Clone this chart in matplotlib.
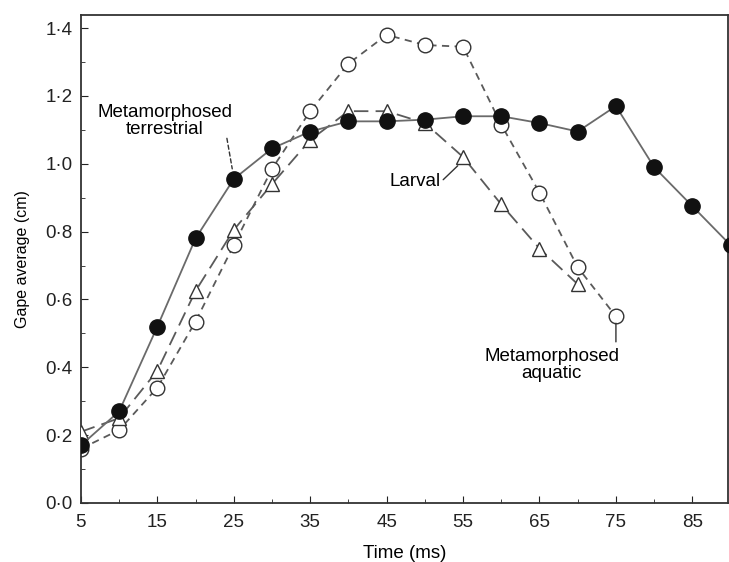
import matplotlib
matplotlib.use("Agg")
import matplotlib.pyplot as plt
from matplotlib.ticker import MultipleLocator, FuncFormatter

plt.rcParams['font.family'] = ['Liberation Sans', 'DejaVu Sans']

# values
time_terr = [5, 10, 15, 20, 25, 30, 35, 40, 45, 50, 55, 60, 65, 70, 75, 80, 85, 90]
gape_terr = [0.17, 0.27, 0.52, 0.78, 0.955, 1.045, 1.095, 1.125, 1.125, 1.13, 1.14, 1.14,
             1.12, 1.095, 1.17, 0.99, 0.875, 0.76]

time_aqua = [5, 10, 15, 20, 25, 30, 35, 40, 45, 50, 55, 60, 65, 70, 75]
gape_aqua = [0.16, 0.215, 0.34, 0.535, 0.76, 0.985, 1.155, 1.295, 1.38, 1.35, 1.345,
             1.115, 0.915, 0.695, 0.55]

time_larv = [5, 10, 15, 20, 25, 30, 35, 40, 45, 50, 55, 60, 65, 70]
gape_larv = [0.21, 0.25, 0.39, 0.625, 0.805, 0.94, 1.07, 1.155, 1.155, 1.12, 1.02,
             0.88, 0.75, 0.645]

xticks = [5, 15, 25, 35, 45, 55, 65, 75, 85]

fig = plt.figure(figsize=(7.29, 5.62), dpi=100)
ax = fig.add_axes([0.111, 0.105, 0.888, 0.868])

line_col = '#5a5a5a'
ax.plot(time_aqua, gape_aqua, color=line_col, lw=1.3, ls=(0, (4, 3)),
        marker='o', ms=10.5, mfc='white', mec='#333333', mew=1.0, zorder=2)
ax.plot(time_larv, gape_larv, color=line_col, lw=1.3, ls=(0, (8, 4)),
        marker='^', ms=10, mfc='white', mec='#333333', mew=1.0, zorder=3)
ax.plot(time_terr, gape_terr, color='#6a6a6a', lw=1.3, ls='-',
        marker='o', ms=11, mfc='#111111', mec='#111111', zorder=4)

# labels and their leader lines
fs = 13.5
lead = dict(arrowstyle='-', color='#333333', lw=1.0, shrinkA=0, shrinkB=0)
ax.text(16.0, 1.125, 'Metamorphosed\nterrestrial', ha='center', va='center',
        fontsize=fs, linespacing=1.0)
ax.annotate('', xy=(24.8, 0.985), xytext=(24.1, 1.075),
            arrowprops=dict(lead, ls=(0, (3, 2))))
ax.text(48.7, 0.947, 'Larval', ha='center', va='center', fontsize=fs)
ax.annotate('', xy=(54.3, 0.994), xytext=(52.4, 0.953), arrowprops=lead)
ax.text(66.6, 0.407, 'Metamorphosed\naquatic', ha='center', va='center',
        fontsize=fs, linespacing=1.0)
ax.annotate('', xy=(75, 0.53), xytext=(75, 0.475), arrowprops=lead)

ax.set_xlim(5, 89.7)
ax.set_ylim(0, 1.438)
ax.set_xticks(xticks)
ax.xaxis.set_minor_locator(MultipleLocator(5))
ax.yaxis.set_major_locator(MultipleLocator(0.2))
ax.yaxis.set_minor_locator(MultipleLocator(0.1))
ax.yaxis.set_major_formatter(FuncFormatter(lambda v, p: f"{v:.1f}".replace('.', '\u00b7')))
ax.tick_params(which='both', direction='in', labelsize=13.5, colors='#222222')
ax.tick_params(which='major', length=5)
ax.tick_params(which='minor', length=3)
ax.tick_params(axis='x', pad=8)
ax.tick_params(axis='y', pad=6)
for s in ax.spines.values():
    s.set_color('#333333')
    s.set_linewidth(1.3)

ax.set_xlabel('Time (ms)', fontsize=13.5, labelpad=10)
ax.set_ylabel('Gape average (cm)', fontsize=11.5, labelpad=11)

fig.savefig('out.png', dpi=100)
